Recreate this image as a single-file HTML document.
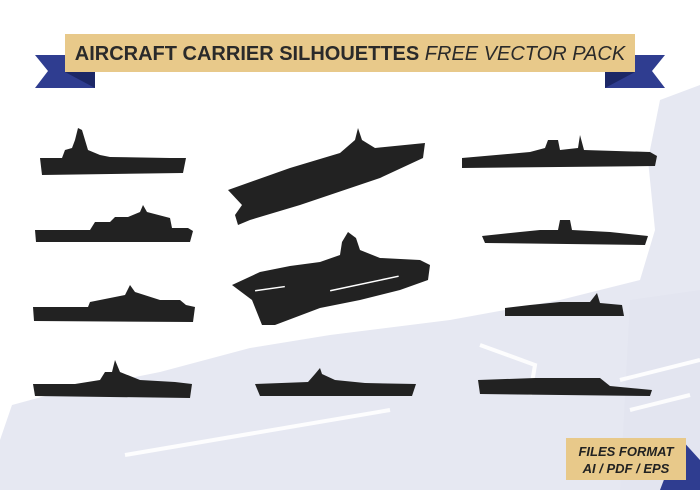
<!DOCTYPE html>
<html><head><meta charset="utf-8"><style>
html,body{margin:0;padding:0;background:#fff;}
svg{display:block}
</style></head><body>
<svg width="700" height="490" viewBox="0 0 700 490" xmlns="http://www.w3.org/2000/svg">
<rect width="700" height="490" fill="#fff"/>
<path d="M0,490 L0,440 L12,405 L60,392 L160,372 L250,348 L330,335 L450,320 L560,300 L640,280 L655,230 L648,160 L660,100 L700,85 L700,490 Z" fill="#e6e8f2"/>
<path d="M630,300 L700,290 L700,490 L620,490 Z" fill="#e3e5f0"/>
<g stroke="#fff" stroke-width="4" fill="none" opacity="0.9">
<path d="M125,455 L390,410"/><path d="M480,345 L535,365 L530,395"/><path d="M620,380 L700,360"/><path d="M630,410 L690,395"/>
</g>
<polygon points="35,55 95,55 95,88 35,88 48,71" fill="#2f3d90"/>
<polygon points="605,55 665,55 652,71 665,88 605,88" fill="#2f3d90"/>
<rect x="65" y="34" width="570" height="38" fill="#e8c98a"/>
<polygon points="65,72 95,72 95,88" fill="#1c2766"/>
<polygon points="635,72 605,72 605,88" fill="#1c2766"/>
<text x="350" y="60" text-anchor="middle" font-family="Liberation Sans, sans-serif" font-size="20" fill="#2a2a2a"><tspan font-weight="bold">AIRCRAFT CARRIER SILHOUETTES</tspan><tspan font-style="italic"> FREE VECTOR PACK</tspan></text>
<g fill="#222">
<path d="M40,158 L62,158 L65,150 L72,148 L75,140 L78,128 L82,130 L88,150 L100,155 L110,157 L170,158 L186,158 L183,173 L42,175 Z"/>
<path d="M35,230 L90,230 L95,222 L110,222 L115,217 L128,217 L140,212 L143,205 L147,212 L170,218 L172,228 L188,228 L193,231 L190,242 L36,242 Z"/>
<path d="M33,307 L88,307 L90,302 L110,298 L125,295 L130,285 L135,292 L160,300 L180,300 L186,305 L195,307 L193,322 L34,321 Z"/>
<path d="M33,384 L75,384 L100,380 L105,372 L112,372 L115,360 L120,372 L140,380 L175,382 L192,384 L190,398 L35,396 Z"/>
<path d="M228,190 L290,168 L340,153 L355,140 L358,128 L362,140 L375,148 L425,143 L423,158 L380,178 L300,205 L250,220 L238,225 L235,215 L242,205 Z"/>
<path d="M232,285 L260,272 L290,266 L320,262 L340,255 L342,242 L348,232 L356,238 L360,250 L380,258 L420,260 L430,265 L428,280 L400,290 L360,300 L320,308 L275,325 L262,325 L252,300 Z"/>
<g fill="#fff"><rect x="330" y="290" width="70" height="1.5" transform="rotate(-12 330 290)"/><rect x="255" y="290" width="30" height="1.5" transform="rotate(-8 255 290)"/></g>
<path d="M255,384 L308,382 L315,374 L320,368 L322,374 L335,380 L365,383 L416,384 L412,396 L260,396 Z"/>
<path d="M462,158 L530,152 L545,148 L548,140 L558,140 L560,150 L578,148 L580,135 L584,150 L650,152 L657,156 L655,166 L462,168 Z"/>
<path d="M482,236 L520,232 L540,230 L558,230 L560,220 L570,220 L572,230 L610,232 L648,236 L645,245 L485,243 Z"/>
<path d="M505,308 L530,305 L560,302 L590,302 L597,293 L600,303 L622,305 L624,316 L505,316 Z"/>
<path d="M478,380 L535,378 L600,378 L610,386 L652,390 L650,396 L480,394 Z"/>
</g>
<polygon points="680,438 700,460 700,490 660,490" fill="#2f3d90"/>
<rect x="566" y="438" width="120" height="42" fill="#e8c98a"/>
<text x="626" y="456" text-anchor="middle" font-family="Liberation Sans, sans-serif" font-size="13" font-weight="bold" font-style="italic" fill="#222">FILES FORMAT</text>
<text x="626" y="473" text-anchor="middle" font-family="Liberation Sans, sans-serif" font-size="13" font-weight="bold" font-style="italic" fill="#222">AI / PDF / EPS</text>
</svg>
</body></html>
